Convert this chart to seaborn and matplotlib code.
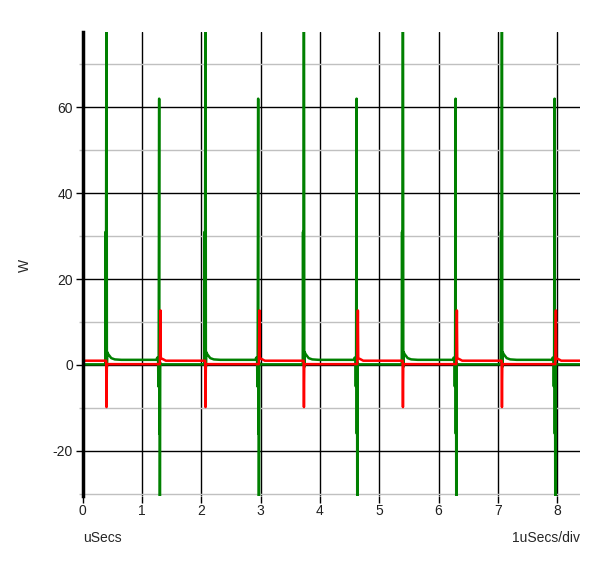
import numpy as np
import pandas as pd
import matplotlib
matplotlib.use("Agg")
import matplotlib.pyplot as plt
import seaborn as sns

# spike instants (uSecs)
big_spike_t = [0.40, 2.07, 3.73, 5.40, 7.07]
small_spike_t = [1.30, 2.97, 4.63, 6.30, 7.97]
t_end = 8.39

# green trace: plateau levels and the shape around each spike (offset, W)
green_low, green_high = 0.15, 1.2
green_big_dt = [-0.02, -0.015, -0.01, 0.0, 0.006, 0.012, 0.03, 0.08, 0.14, 0.25]
green_big_p = [0.15, 31.0, 0.15, 110.0, -0.5, 3.0, 2.5, 1.6, 1.3, 1.2]
green_small_dt = [-0.06, -0.045, -0.03, -0.025, -0.02, -0.012, -0.008, -0.004, 0.0, 0.006, 0.02]
green_small_p = [1.2, 1.7, 1.7, -5.0, 1.5, 62.0, -16.0, 12.5, -45.0, 0.5, 0.15]

# red trace
red_low, red_high = 0.2, 1.0
red_big_dt = [-0.006, 0.0, 0.006]
red_big_p = [1.0, -9.8, 0.2]
red_small_dt = [0.0, 0.01, 0.016, 0.06, 0.1]
red_small_p = [0.2, 12.7, 1.6, 1.3, 1.0]

yticks = [-20, 0, 20, 40, 60]
yminor = [-30, -10, 10, 30, 50, 70]
xticks = [0, 1, 2, 3, 4, 5, 6, 7, 8]


def build(start, end_level, big_dt, big_p, small_dt, small_p):
    t, p = [0.0], [start]
    events = sorted([(b, big_dt, big_p) for b in big_spike_t] +
                    [(s, small_dt, small_p) for s in small_spike_t])
    for t0, dts, ps in events:
        for d, v in zip(dts, ps):
            t.append(t0 + d)
            p.append(v)
    t.append(t_end)
    p.append(end_level)
    return pd.DataFrame({"t": t, "p": p})


green = build(green_low, green_low, green_big_dt, green_big_p, green_small_dt, green_small_p)
red = build(red_high, red_high, red_big_dt, red_big_p, red_small_dt, red_small_p)

sns.set_style("white")
plt.rcParams["font.family"] = ["Liberation Sans", "DejaVu Sans"]
plt.rcParams["axes.unicode_minus"] = False

fig = plt.figure(figsize=(6.0, 5.63), dpi=100)
ax = fig.add_axes([0.138, 0.119, 0.829, 0.824])

ax.set_xticks(xticks)
ax.set_yticks(yticks)
ax.set_yticks(yminor, minor=True)
ax.grid(which="major", color="black", lw=1.0, zorder=0)
ax.grid(which="minor", axis="y", color="#c0c0c0", lw=1.0, zorder=0)
ax.set_axisbelow(True)

sns.lineplot(data=green, x="t", y="p", ax=ax, color="#008000", lw=1.8,
             sort=False, estimator=None)
sns.lineplot(data=red, x="t", y="p", ax=ax, color="#ff0000", lw=1.8,
             sort=False, estimator=None)

ax.set_xlim(0, t_end)
ax.set_ylim(-30.5, 77.5)
ax.set_xlabel("")
ax.set_ylabel("")

for s in ["top", "right", "bottom"]:
    ax.spines[s].set_visible(False)
ax.spines["left"].set_color("black")
ax.spines["left"].set_linewidth(2.5)

ax.tick_params(which="major", bottom=True, left=True, length=5, width=1,
               color="black", labelsize=10, labelcolor="#202020", pad=2)
ax.tick_params(axis="x", pad=1)
ax.tick_params(which="minor", axis="y", left=True, length=3, width=1, color="#c0c0c0")

fig.text(25 / 600, 1 - 265 / 563, "W", rotation=90, ha="center", va="center", fontsize=10)
fig.text(83 / 600, 1 - 538 / 563, "uSecs", ha="left", va="center", fontsize=10)
fig.text(580 / 600, 1 - 538 / 563, "1uSecs/div", ha="right", va="center", fontsize=10)

fig.savefig("out.png", dpi=100)
